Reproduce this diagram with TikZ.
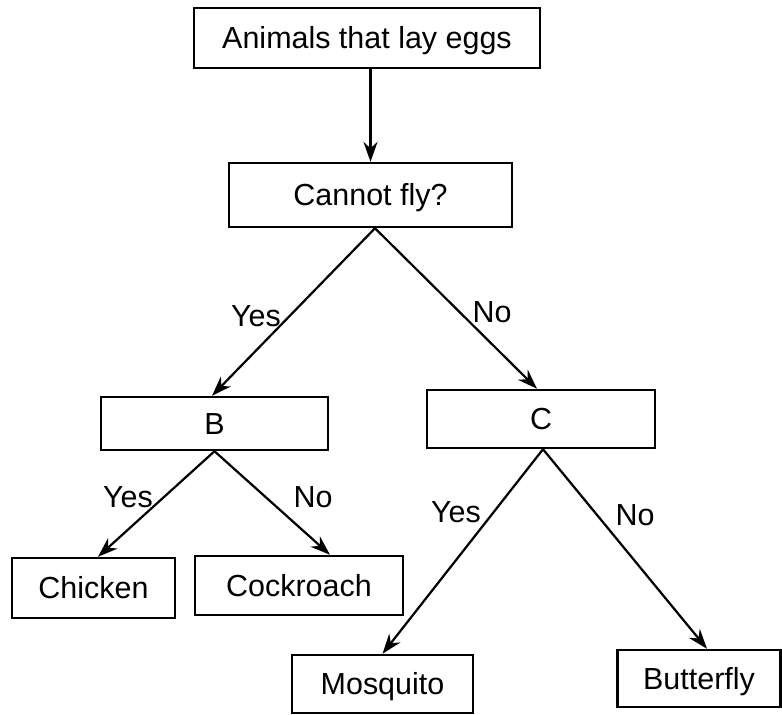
\documentclass[tikz,border=0pt]{standalone}
\usepackage{fontspec}
\setmainfont{Liberation Sans}
\usetikzlibrary{arrows.meta}

\begin{document}
\begin{tikzpicture}[x=0.03cm,y=-0.03cm,line width=1.9pt,>={Stealth[length=17pt,width=12pt]},
box/.style={draw,line width=2.1pt,inner sep=0pt,font=\fontsize{26}{30}\selectfont,text height=18.6pt,text depth=0pt},
lab/.style={inner sep=0pt,font=\fontsize{26}{30}\selectfont,text height=18.6pt,text depth=0pt}]
\useasboundingbox (0,0) rectangle (782,714);
% boxes
\node[box,minimum width=10.38cm,minimum height=1.8cm] (eggs) at (367,38) {Animals that lay eggs};
\node[box,minimum width=8.49cm,minimum height=1.92cm] (fly) at (370.5,195) {Cannot fly?};
\node[box,minimum width=6.81cm,minimum height=1.59cm] (b) at (214.5,423.5) {B};
\node[box,minimum width=6.84cm,minimum height=1.74cm] (c) at (541,419) {C};
\node[box,minimum width=4.89cm,minimum height=1.8cm] (chicken) at (93.5,588) {Chicken};
\node[box,minimum width=6.24cm,minimum height=1.77cm] (cockroach) at (299,585.5) {Cockroach};
\node[box,minimum width=5.43cm,minimum height=1.74cm] (mosquito) at (382.5,684) {Mosquito};
\node[box,minimum width=4.89cm,minimum height=1.71cm] (butterfly) at (699,678.5) {Butterfly};
% arrows
\draw[->] (fly.north |- eggs.south) -- (fly.north);
\draw[->] ([xshift=0.135cm]fly.south) -- ([xshift=-0.075cm]b.north);
\draw[->] ([xshift=0.135cm]fly.south) -- ([xshift=-0.12cm]c.north);
\draw[->] (b.south) -- ([xshift=0.135cm]chicken.north);
\draw[->] (b.south) -- ([xshift=0.93cm]cockroach.north);
\draw[->] ([xshift=0.06cm]c.south) -- (mosquito.north);
\draw[->] ([xshift=0.06cm]c.south) -- ([xshift=0.24cm]butterfly.north);
% labels
\node[lab] (yes1) at (256,316) {Yes};
\node[lab] (no1) at (492,312) {No};
\node[lab] (yes2) at (128,497) {Yes};
\node[lab] (no2) at (313,497) {No};
\node[lab] (yes3) at (456,512) {Yes};
\node[lab] (no3) at (635,515) {No};
\end{tikzpicture}
\end{document}
